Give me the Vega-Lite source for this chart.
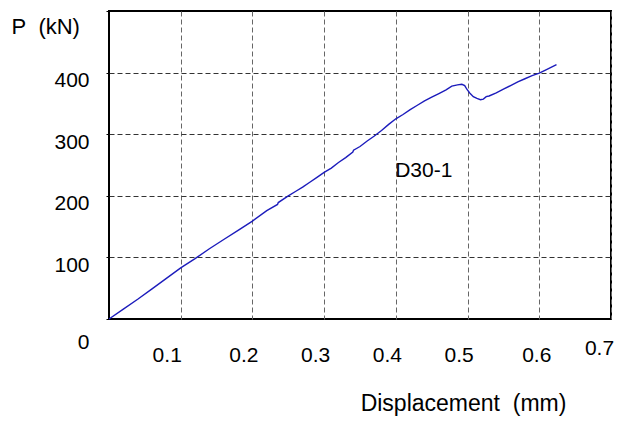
{
  "$schema": "https://vega.github.io/schema/vega-lite/v6.json",
  "width": 502,
  "height": 308,
  "autosize": {"type": "none"},
  "padding": {"left": 109, "top": 11, "right": 8, "bottom": 102},
  "background": "white",
  "config": {
    "view": {"stroke": "black", "strokeWidth": 2},
    "font": "Liberation Sans"
  },
  "layer": [
    {
      "data": {
        "values": [
          {"d": 0.0, "p": 0}, {"d": 0.02, "p": 16}, {"d": 0.04, "p": 32}, {"d": 0.06, "p": 49},
          {"d": 0.08, "p": 66}, {"d": 0.1, "p": 83}, {"d": 0.12, "p": 98}, {"d": 0.14, "p": 114},
          {"d": 0.16, "p": 129}, {"d": 0.18, "p": 144}, {"d": 0.2, "p": 159}, {"d": 0.22, "p": 176},
          {"d": 0.235, "p": 186}, {"d": 0.236, "p": 189}, {"d": 0.25, "p": 200}, {"d": 0.26, "p": 207},
          {"d": 0.27, "p": 214}, {"d": 0.28, "p": 222}, {"d": 0.29, "p": 230}, {"d": 0.3, "p": 238},
          {"d": 0.31, "p": 245}, {"d": 0.32, "p": 254}, {"d": 0.33, "p": 262}, {"d": 0.34, "p": 271},
          {"d": 0.341, "p": 274}, {"d": 0.35, "p": 280}, {"d": 0.36, "p": 289}, {"d": 0.37, "p": 297},
          {"d": 0.38, "p": 306}, {"d": 0.39, "p": 316}, {"d": 0.4, "p": 325}, {"d": 0.41, "p": 332},
          {"d": 0.42, "p": 340}, {"d": 0.43, "p": 347}, {"d": 0.44, "p": 354}, {"d": 0.45, "p": 360},
          {"d": 0.46, "p": 366}, {"d": 0.47, "p": 372}, {"d": 0.478, "p": 378}, {"d": 0.486, "p": 380},
          {"d": 0.492, "p": 381}, {"d": 0.496, "p": 379}, {"d": 0.499, "p": 373}, {"d": 0.503, "p": 367},
          {"d": 0.508, "p": 361}, {"d": 0.513, "p": 358}, {"d": 0.518, "p": 356}, {"d": 0.522, "p": 357},
          {"d": 0.526, "p": 361}, {"d": 0.53, "p": 362}, {"d": 0.54, "p": 367}, {"d": 0.55, "p": 373},
          {"d": 0.56, "p": 379}, {"d": 0.57, "p": 385}, {"d": 0.58, "p": 390}, {"d": 0.59, "p": 395},
          {"d": 0.6, "p": 399}, {"d": 0.61, "p": 405}, {"d": 0.624, "p": 413}
        ]
      },
      "mark": {"type": "line", "color": "#1c1cbc", "strokeWidth": 1.4},
      "encoding": {
        "x": {
          "field": "d", "type": "quantitative",
          "scale": {"domain": [0, 0.7], "nice": false, "zero": false},
          "axis": {
            "title": "Displacement\u00a0\u00a0(mm)",
            "titleFont": "Liberation Sans", "titleFontSize": 23, "titleFontWeight": "normal",
            "titleColor": "black",
            "titleAnchor": "start", "titleAlign": "center", "titleBaseline": "alphabetic",
            "titleX": 354, "titleY": 91,
            "values": [0.1, 0.2, 0.3, 0.4, 0.5, 0.6, 0.7],
            "format": ".1f",
            "domain": false,
            "ticks": false,
            "labelFont": "Liberation Sans", "labelFontSize": 21, "labelColor": "black",
            "labelBaseline": "middle",
            "labelPadding": {"condition": {"test": "datum.value > 0.65", "value": 29}, "value": 36},
            "labelOffset": {"condition": [
              {"test": "datum.value < 0.15", "value": -14},
              {"test": "datum.value > 0.55 && datum.value < 0.65", "value": -3},
              {"test": "datum.value > 0.65", "value": -12}
            ], "value": -9},
            "labelFlush": false,
            "labelOverlap": false,
            "grid": true, "gridColor": "#666666", "gridDash": [5, 3], "gridWidth": 1
          }
        },
        "y": {
          "field": "p", "type": "quantitative",
          "scale": {"domain": [0, 500], "nice": false},
          "axis": {
            "title": "P\u00a0\u00a0(kN)",
            "titleFont": "Liberation Sans", "titleFontSize": 22, "titleFontWeight": "normal",
            "titleColor": "black",
            "titleAngle": 0, "titleAlign": "left", "titleBaseline": "alphabetic",
            "titleX": -98, "titleY": 22,
            "values": [0, 50, 100, 150, 200, 250, 300, 350, 400, 450, 500],
            "labelExpr": "datum.value % 100 == 0 && datum.value < 500 ? datum.label : ''",
            "domain": false,
            "ticks": true, "tickSize": 3, "tickColor": "black", "tickWidth": 1,
            "labelFont": "Liberation Sans", "labelFontSize": 21, "labelColor": "black",
            "labelBaseline": "middle",
            "labelPadding": 17,
            "labelOffset": {"condition": {"test": "datum.value == 0", "value": 23}, "value": 8},
            "labelFlush": false,
            "labelOverlap": false,
            "grid": true, "gridColor": "#333333", "gridDash": [5, 3], "gridWidth": 1,
            "gridOpacity": {"condition": {"test": "datum.value % 100 != 0 || datum.value == 0 || datum.value == 500", "value": 0}, "value": 1}
          }
        }
      }
    },
    {
      "data": {"values": [{"d": 0.399, "p": 241, "name": "D30-1"}]},
      "mark": {"type": "text", "align": "left", "baseline": "middle", "font": "Liberation Sans", "fontSize": 21, "color": "black"},
      "encoding": {
        "x": {"field": "d", "type": "quantitative"},
        "y": {"field": "p", "type": "quantitative"},
        "text": {"field": "name"}
      }
    }
  ]
}
